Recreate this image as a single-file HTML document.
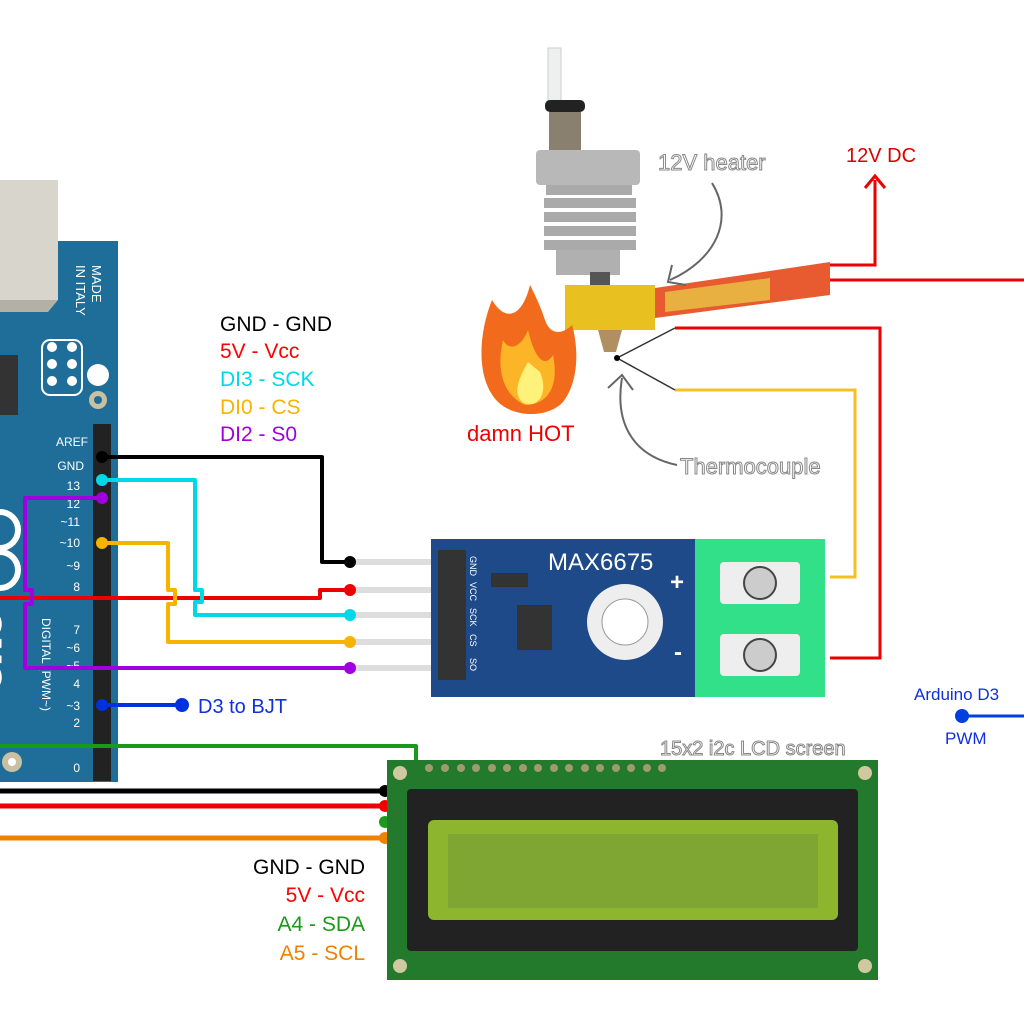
<!DOCTYPE html>
<html><head><meta charset="utf-8"><style>
html,body{margin:0;padding:0;background:#fff;}
svg{display:block;}
text{font-family:"Liberation Sans",sans-serif;}
</style></head><body>
<svg width="1024" height="1024" viewBox="0 0 1024 1024" xmlns="http://www.w3.org/2000/svg">
<rect width="1024" height="1024" fill="#fff"/>

<!-- Arduino -->
<rect x="0" y="241" width="118" height="541" fill="#1f6d99"/>
<rect x="0" y="180" width="58" height="120" fill="#d8d6cc"/>
<polygon points="0,300 58,300 48,312 0,312" fill="#b3b0a5"/>
<text transform="translate(92,265) rotate(90)" font-size="13" fill="#fff">MADE</text>
<text transform="translate(76,265) rotate(90)" font-size="13" fill="#fff">IN ITALY</text>
<circle cx="98" cy="375" r="11" fill="#fff"/>
<circle cx="98" cy="400" r="9" fill="#c8c0a0"/><circle cx="98" cy="400" r="4" fill="#1f6d99"/>
<rect x="42" y="340" width="40" height="55" rx="8" fill="none" stroke="#fff" stroke-width="2"/>
<circle cx="52" cy="347" r="5" fill="#fff"/><circle cx="72" cy="347" r="5" fill="#fff"/>
<circle cx="52" cy="364" r="5" fill="#fff"/><circle cx="72" cy="364" r="5" fill="#fff"/>
<circle cx="52" cy="381" r="5" fill="#fff"/><circle cx="72" cy="381" r="5" fill="#fff"/>
<rect x="0" y="355" width="18" height="60" fill="#333"/>
<circle cx="0" cy="530" r="18" fill="none" stroke="#fff" stroke-width="6"/>
<circle cx="0" cy="570" r="18" fill="none" stroke="#fff" stroke-width="6"/>
<rect x="93" y="424" width="18" height="357" fill="#222"/>
<g font-size="12" fill="#fff" text-anchor="end">
<text x="88" y="446">AREF</text><text x="84" y="470">GND</text><text x="80" y="490">13</text>
<text x="80" y="508">12</text><text x="80" y="526">~11</text><text x="80" y="547">~10</text>
<text x="80" y="570">~9</text><text x="80" y="591">8</text><text x="80" y="634">7</text>
<text x="80" y="652">~6</text><text x="80" y="670">~5</text><text x="80" y="688">4</text>
<text x="80" y="710">~3</text><text x="80" y="727">2</text><text x="80" y="772">0</text>
</g>
<text transform="translate(42,618) rotate(90)" font-size="12" fill="#fff">DIGITAL (PWM~)</text>
<text transform="translate(0,690) rotate(-90)" font-size="36" fill="none" stroke="#fff" stroke-width="3" font-weight="bold">UNO</text>
<circle cx="12" cy="762" r="10" fill="#c8c0a0"/><circle cx="12" cy="762" r="4" fill="#fff"/>

<!-- Upper legend -->
<g font-size="21">
<text x="220" y="331" fill="#000">GND - GND</text>
<text x="220" y="358" fill="#f00">5V - Vcc</text>
<text x="220" y="386" fill="#00d8e8">DI3 - SCK</text>
<text x="220" y="414" fill="#f5b400">DI0 - CS</text>
<text x="220" y="441" fill="#a000e0">DI2 - S0</text>
</g>

<!-- pin lines -->
<g stroke="#ddd" stroke-width="6">
<line x1="350" y1="562" x2="445" y2="562"/><line x1="350" y1="590" x2="445" y2="590"/>
<line x1="350" y1="615" x2="445" y2="615"/><line x1="350" y1="642" x2="445" y2="642"/>
<line x1="350" y1="668" x2="445" y2="668"/>
</g>

<!-- wires -->
<g fill="none" stroke-width="4" stroke-linejoin="round">
<polyline points="0,598 320,598 320,590 350,590" stroke="#e00"/>
<polyline points="102,457 322,457 322,562 350,562" stroke="#000"/>
<polyline points="102,480 195,480 195,590 202,590 202,602 195,602 195,615 350,615" stroke="#00d8e8"/>
<polyline points="102,543 168,543 168,590 175,590 175,604 168,604 168,642 350,642" stroke="#f5b400"/>
<polyline points="102,498 25,498 25,590 32,590 32,604 25,604 25,668 350,668" stroke="#a000e0"/>
<polyline points="102,705 182,705" stroke="#0030e0"/>
<polyline points="0,791 385,791" stroke="#000" stroke-width="5"/>
<polyline points="0,806 385,806" stroke="#e00" stroke-width="5"/>
<polyline points="0,746 416,746 416,822 385,822" stroke="#1a9a1a"/>
<polyline points="0,838 385,838" stroke="#f08000" stroke-width="5"/>
<polyline points="962,716 1024,716" stroke="#0040e0" stroke-width="3"/>
</g>
<g>
<circle cx="102" cy="457" r="6" fill="#000"/><circle cx="102" cy="480" r="6" fill="#00d8e8"/>
<circle cx="102" cy="498" r="6" fill="#a000e0"/><circle cx="102" cy="543" r="6" fill="#f5b400"/>
<circle cx="102" cy="705" r="6" fill="#0030e0"/><circle cx="182" cy="705" r="7" fill="#0030e0"/>
<circle cx="350" cy="562" r="6" fill="#000"/><circle cx="350" cy="590" r="6" fill="#e00"/>
<circle cx="350" cy="615" r="6" fill="#00d8e8"/><circle cx="350" cy="642" r="6" fill="#f5b400"/>
<circle cx="350" cy="668" r="6" fill="#a000e0"/>
<circle cx="385" cy="791" r="6" fill="#000"/><circle cx="385" cy="806" r="6" fill="#e00"/>
<circle cx="385" cy="822" r="6" fill="#1a9a1a"/><circle cx="385" cy="838" r="6" fill="#f08000"/>
<circle cx="962" cy="716" r="7" fill="#0040e0"/>
</g>
<text x="198" y="713" font-size="20" fill="#1030e0">D3 to BJT</text>
<text x="914" y="700" font-size="17" fill="#1030e0">Arduino D3</text>
<text x="945" y="744" font-size="17" fill="#1030e0">PWM</text>

<!-- MAX6675 -->
<rect x="431" y="539" width="264" height="158" fill="#1e4a8a"/>
<rect x="438" y="550" width="28" height="130" fill="#333"/>
<g font-size="9" fill="#fff">
<text transform="translate(470,556) rotate(90)">GND</text><text transform="translate(470,582) rotate(90)">VCC</text>
<text transform="translate(470,608) rotate(90)">SCK</text><text transform="translate(470,634) rotate(90)">CS</text>
<text transform="translate(470,658) rotate(90)">SO</text>
</g>
<rect x="491" y="573" width="37" height="14" fill="#333"/>
<rect x="517" y="605" width="35" height="45" fill="#333"/>
<circle cx="625" cy="622" r="38" fill="#eee"/><circle cx="625" cy="622" r="23" fill="#fff" stroke="#999"/>
<text x="548" y="570" font-size="24" fill="#fff">MAX6675</text>
<text x="670" y="590" font-size="24" fill="#fff" font-weight="bold">+</text>
<text x="674" y="660" font-size="24" fill="#fff" font-weight="bold">-</text>
<rect x="695" y="539" width="130" height="158" fill="#33e08a"/>
<rect x="720" y="562" width="80" height="42" rx="4" fill="#eee"/>
<rect x="720" y="634" width="80" height="42" rx="4" fill="#eee"/>
<circle cx="760" cy="583" r="16" fill="#ccc" stroke="#444" stroke-width="2"/>
<circle cx="760" cy="655" r="16" fill="#ccc" stroke="#444" stroke-width="2"/>

<!-- LCD -->
<rect x="387" y="760" width="491" height="220" fill="#237a2c"/>
<rect x="407" y="789" width="451" height="162" rx="4" fill="#222"/>
<rect x="428" y="820" width="410" height="100" rx="6" fill="#8db52e"/>
<rect x="448" y="834" width="370" height="74" fill="#7fa532"/>
<g fill="#d0c8a0">
<circle cx="400" cy="773" r="7"/><circle cx="865" cy="773" r="7"/><circle cx="400" cy="966" r="7"/><circle cx="865" cy="966" r="7"/>
</g>
<g fill="#a09a70">
<circle cx="429" cy="768" r="4"/><circle cx="445" cy="768" r="4"/><circle cx="461" cy="768" r="4"/><circle cx="476" cy="768" r="4"/><circle cx="492" cy="768" r="4"/><circle cx="507" cy="768" r="4"/><circle cx="523" cy="768" r="4"/><circle cx="538" cy="768" r="4"/><circle cx="554" cy="768" r="4"/><circle cx="569" cy="768" r="4"/><circle cx="585" cy="768" r="4"/><circle cx="600" cy="768" r="4"/><circle cx="616" cy="768" r="4"/><circle cx="631" cy="768" r="4"/><circle cx="647" cy="768" r="4"/><circle cx="662" cy="768" r="4"/>
</g>
<text x="660" y="755" font-size="20" fill="#fff" stroke="#888" stroke-width="1">15x2 i2c LCD screen</text>

<!-- lower legend -->
<g font-size="21" text-anchor="end">
<text x="365" y="874" fill="#000">GND - GND</text>
<text x="365" y="902" fill="#f00">5V - Vcc</text>
<text x="365" y="931" fill="#1a9a1a">A4 - SDA</text>
<text x="365" y="960" fill="#f08000">A5 - SCL</text>
</g>

<!-- hotend -->
<rect x="548" y="48" width="13" height="55" fill="#eef0f0" stroke="#ccc"/>
<rect x="545" y="100" width="40" height="12" rx="5" fill="#222"/>
<rect x="549" y="112" width="32" height="40" fill="#8a8070"/>
<rect x="536" y="150" width="104" height="35" rx="4" fill="#b8b8b8"/>
<g fill="#aaa"><rect x="546" y="185" width="86" height="10"/><rect x="544" y="198" width="92" height="10"/><rect x="544" y="212" width="92" height="10"/><rect x="544" y="226" width="92" height="10"/><rect x="544" y="240" width="92" height="10"/></g>
<rect x="556" y="250" width="64" height="25" fill="#b0b0b0"/>
<rect x="590" y="272" width="20" height="15" fill="#555"/>
<rect x="565" y="285" width="90" height="45" fill="#e8c020"/>
<polygon points="598,330 622,330 616,352 604,352" fill="#b09060"/>
<polygon points="655,288 830,262 830,295 655,318" fill="#e85a30"/>
<polygon points="665,292 770,278 770,300 665,312" fill="#e8b040"/>
<polyline points="830,265 875,265 875,180" fill="none" stroke="#e00" stroke-width="3"/>
<polyline points="865,188 875,176 885,188" fill="none" stroke="#e00" stroke-width="3"/>
<polyline points="830,280 1024,280" fill="none" stroke="#e00" stroke-width="3"/>
<text x="846" y="162" font-size="20" fill="#d00">12V DC</text>
<!-- thermocouple -->
<polyline points="675,328 880,328 880,658 830,658" fill="none" stroke="#e00" stroke-width="3"/>
<polyline points="675,390 855,390 855,577 830,577" fill="none" stroke="#f5c020" stroke-width="3"/>
<line x1="617" y1="358" x2="675" y2="328" stroke="#333" stroke-width="1.5"/>
<line x1="617" y1="358" x2="675" y2="390" stroke="#333" stroke-width="1.5"/>
<circle cx="617" cy="358" r="3" fill="#000"/>
<!-- flame -->
<path d="M530,285 C522,318 505,322 492,300 C478,335 476,380 498,402 C515,418 548,418 563,402 C580,380 578,345 572,325 C562,335 550,335 545,320 C540,305 535,295 530,285 Z" fill="#f26a1b"/>
<path d="M528,330 C520,350 508,350 503,340 C496,370 503,395 525,405 C545,405 560,390 553,355 C545,368 535,360 528,330 Z" fill="#fbb526"/>
<path d="M528,362 C518,380 513,392 522,402 C535,410 550,396 540,372 Z" fill="#fff27a"/>
<text x="467" y="441" font-size="22" fill="#e00">damn HOT</text>
<!-- annotations -->
<text x="658" y="170" font-size="22" fill="#fff" stroke="#888" stroke-width="1">12V heater</text>
<path d="M712,183 C735,220 715,260 670,280" fill="none" stroke="#666" stroke-width="2"/>
<polyline points="672,265 668,282 686,285" fill="none" stroke="#666" stroke-width="2"/>
<text x="680" y="474" font-size="22" fill="#fff" stroke="#888" stroke-width="1">Thermocouple</text>
<path d="M677,465 C630,455 615,420 622,378" fill="none" stroke="#666" stroke-width="2"/>
<polyline points="608,388 622,375 633,390" fill="none" stroke="#666" stroke-width="2"/>
</svg>
</body></html>
